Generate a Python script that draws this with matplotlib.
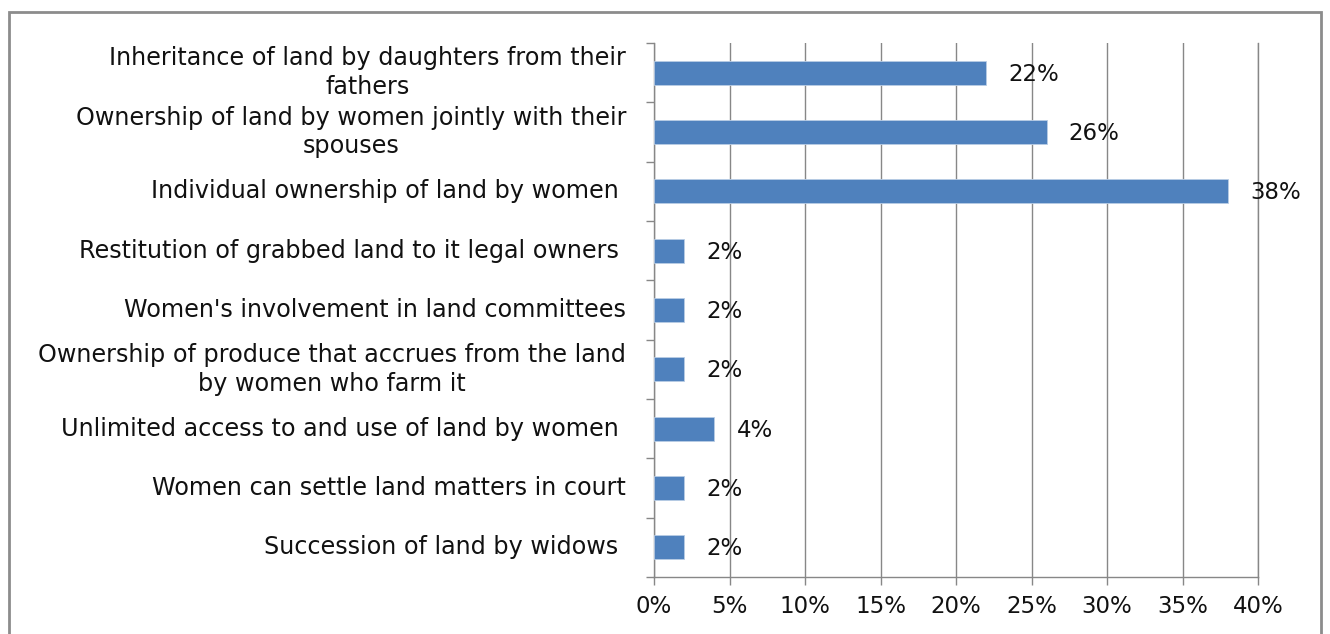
import matplotlib.pyplot as plt
import matplotlib.patches as mpatches
import numpy as np

categories = [
    'Inheritance of land by daughters from their\nfathers',
    'Ownership of land by women jointly with their\nspouses',
    'Individual ownership of land by women ',
    'Restitution of grabbed land to it legal owners ',
    "Women's involvement in land committees",
    'Ownership of produce that accrues from the land\nby women who farm it',
    'Unlimited access to and use of land by women ',
    'Women can settle land matters in court',
    'Succession of land by widows ',
]
values = [22, 26, 38, 2, 2, 2, 4, 2, 2]
xticks = [0, 5, 10, 15, 20, 25, 30, 35, 40]

bar_color = '#4F81BD'
grid_color = '#878787'
fs = 16.5

plt.rcParams['font.family'] = ['DejaVu Sans']

fig = plt.figure(figsize=(13.3, 6.34), dpi=100)
ax = fig.add_axes([654/1330, 1 - 577/634, (1258-654)/1330, (577-43)/634])

y = np.arange(len(categories))
ax.barh(y, values, height=0.4, color=bar_color, edgecolor='#B9CDE5', linewidth=0.6, zorder=3)

for yi, v in zip(y, values):
    ax.annotate('%d%%' % v, (v, yi), xytext=(16, -1), textcoords='offset points',
                ha='left', va='center', fontsize=fs, color='#111111', zorder=4)

ax.set_xlim(0, 40)
ax.set_ylim(len(categories) - 0.5, -0.5)
ax.set_xticks(xticks)
ax.set_xticklabels(['%d%%' % t for t in xticks], fontsize=fs, color='#111111')
ax.set_yticks(y)
ax.set_yticklabels(categories, fontsize=17.2, color='#111111', multialignment='center',
                   linespacing=1.25, va='center')
ax.set_yticks(np.arange(len(categories) + 1) - 0.5, minor=True)

ax.tick_params(axis='y', which='major', length=0, pad=20)
ax.tick_params(axis='y', which='minor', length=6, color=grid_color, width=1)
ax.tick_params(axis='x', length=6, color=grid_color, width=1, pad=7)

ax.grid(axis='x', color=grid_color, linewidth=1, zorder=0)
ax.axvline(40, color=grid_color, linewidth=1, zorder=0, clip_on=False)
for s in ['top', 'right']:
    ax.spines[s].set_visible(False)
for s in ['left', 'bottom']:
    ax.spines[s].set_color(grid_color)
    ax.spines[s].set_linewidth(1)

# outer frame
frame = mpatches.Rectangle((9/1330, -0.01), (1321-9)/1330, 1.01 - 12/634,
                           transform=fig.transFigure, fill=False,
                           edgecolor='#8C8C8C', linewidth=2)
fig.patches.append(frame)

fig.savefig('out.png', dpi=100)
